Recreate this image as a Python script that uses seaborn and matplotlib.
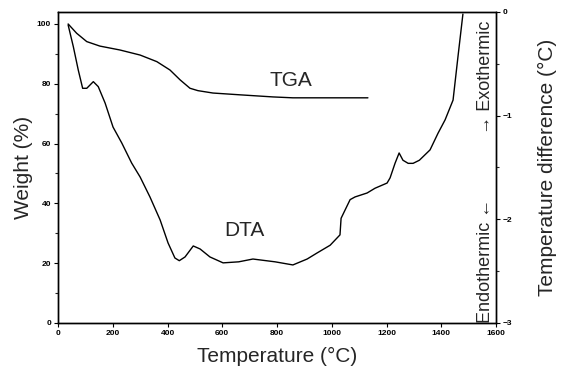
import matplotlib
matplotlib.use("Agg")
import matplotlib.pyplot as plt
import seaborn as sns
import pandas as pd
from matplotlib.ticker import MultipleLocator

# ---- data ----
tga_temp = [37, 68, 105, 153, 226, 300, 361, 409, 446, 482, 511, 566, 665, 785, 858, 1132]
tga_weight = [100, 96.9, 94.1, 92.6, 91.3, 89.6, 87.4, 84.6, 81.3, 78.5, 77.7, 76.9, 76.3, 75.6, 75.3, 75.3]

dta_temp = [37, 56, 74, 90, 105, 129, 147, 172, 201, 233, 269, 300, 336, 373, 402, 427, 443,
            464, 494, 519, 555, 603, 660, 712, 793, 858, 910, 946, 994, 1030, 1034, 1067, 1085,
            1129, 1158, 1202, 1213, 1231, 1246, 1260, 1279, 1297, 1320, 1359, 1388, 1414, 1443,
            1461, 1479]
dta_diff = [-0.125, -0.335, -0.56, -0.736, -0.736, -0.672, -0.72, -0.878, -1.11, -1.264, -1.457,
            -1.592, -1.785, -2.006, -2.228, -2.373, -2.399, -2.363, -2.257, -2.286, -2.363, -2.42,
            -2.41, -2.383, -2.41, -2.44, -2.383, -2.325, -2.25, -2.15, -1.99, -1.81, -1.784,
            -1.746, -1.70, -1.65, -1.60, -1.46, -1.36, -1.43, -1.46, -1.46, -1.43, -1.33, -1.17,
            -1.04, -0.85, -0.43, -0.02]

x_ticks = [0, 200, 400, 600, 800, 1000, 1200, 1400, 1600]
left_ticks = [0, 20, 40, 60, 80, 100]
right_ticks = [0, -1, -2, -3]
right_tick_labels = ["0", "\u22121", "\u22122", "\u22123"]

tga = pd.DataFrame({"T": tga_temp, "W": tga_weight})
dta = pd.DataFrame({"T": dta_temp, "D": dta_diff})

sns.set_style("ticks")
plt.rcParams["font.family"] = ["Liberation Sans", "DejaVu Sans"]

fig = plt.figure(figsize=(5.61, 3.75), dpi=100)
ax = fig.add_axes([0.1034, 0.1387, 0.7808, 0.8293])
ax2 = ax.twinx()

sns.lineplot(data=tga, x="T", y="W", ax=ax, color="black", linewidth=1.0, estimator=None, sort=False)
sns.lineplot(data=dta, x="T", y="D", ax=ax2, color="black", linewidth=1.0, estimator=None, sort=False)

ax.set_xlim(0, 1600)
ax.set_ylim(0, 104)
ax2.set_ylim(-3, 0.0)

ax.set_xticks(x_ticks)
ax.set_xticklabels([str(v) for v in x_ticks], fontsize=6, fontweight="bold")
ax.set_yticks(left_ticks)
ax.set_yticklabels([str(v) for v in left_ticks], fontsize=6, fontweight="bold")
ax.yaxis.set_minor_locator(MultipleLocator(10))
ax2.set_yticks(right_ticks)
ax2.set_yticklabels(right_tick_labels, fontsize=6, fontweight="bold")
ax2.yaxis.set_minor_locator(MultipleLocator(0.5))

for a in (ax, ax2):
    a.tick_params(which="major", length=3, width=0.8, pad=2, colors="black")
    a.tick_params(which="minor", length=2, width=0.8)
    for s in a.spines.values():
        s.set_visible(True)
        s.set_linewidth(1.0)
        s.set_color("black")

ax.set_xlabel("Temperature (\u00b0C)", fontsize=15, labelpad=7)
ax.set_ylabel("Weight (%)", fontsize=15, labelpad=3)
ax2.set_ylabel("Temperature difference (\u00b0C)", fontsize=15, labelpad=18)

ax.text(850, 81, "TGA", fontsize=15, ha="center", va="center")
ax.text(680, 31, "DTA", fontsize=15, ha="center", va="center")
ax.text(1562, 50.5, "Endothermic \u2190             \u2192 Exothermic", fontsize=13,
        rotation=90, ha="center", va="center")

fig.savefig("out.png", dpi=100)
